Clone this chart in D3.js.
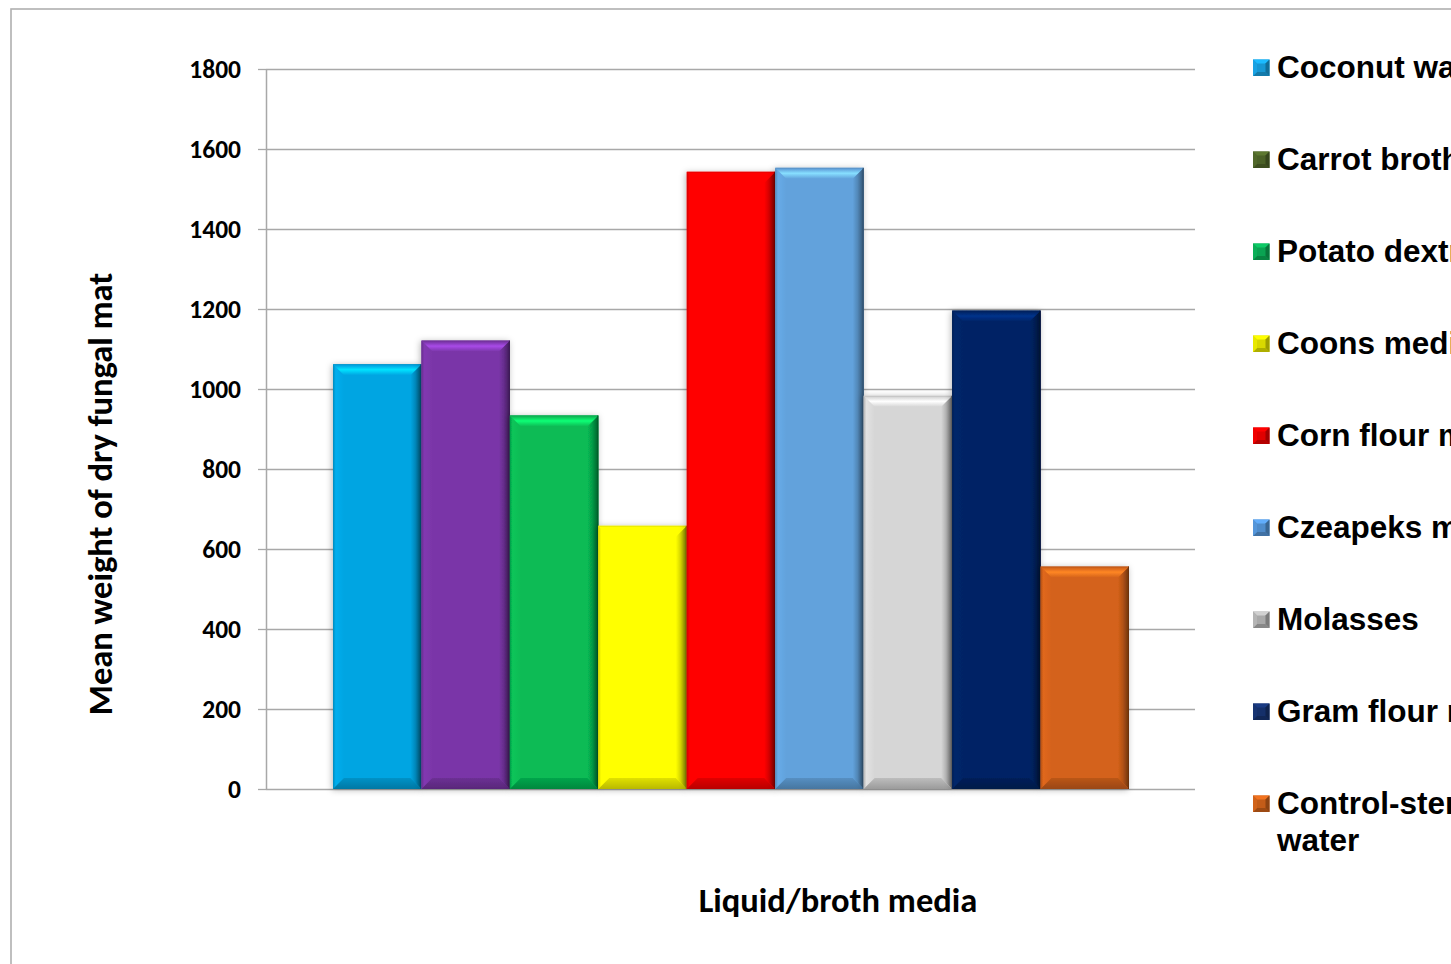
<!DOCTYPE html>
<html>
<head>
<meta charset="utf-8">
<script src="https://cdn.jsdelivr.net/npm/d3@7/dist/d3.min.js"></script>
<style>
  html, body { margin: 0; padding: 0; background: #fff; overflow: hidden; }
  svg { display: block; }
</style>
</head>
<body>
<svg id="chart" width="1451" height="964"></svg>
<script>
// Media tested and mean dry weight of the fungal mat grown on each
const media = [
  "Coconut water", "Carrot broth", "Potato dextrose broth", "Coons medium",
  "Corn flour medium", "Czeapeks medium", "Molasses", "Gram flour medium",
  "Control-sterile distilled water"
];
const meanWeight = [1062, 1121, 934, 658, 1543, 1553, 983, 1196, 556];
const barColors = ["#00a5e2", "#7a36a8", "#07bb55", "#ffff00", "#ff0000",
                   "#62a2dc", "#d6d6d6", "#042465", "#d4621a"];
const legendColors = ["#1797d3", "#4b6127", "#0aa352", "#d8d800", "#e00000",
                      "#4f8ccb", "#a9a9a9", "#15306a", "#c35c18"];
const yTicks = [0, 200, 400, 600, 800, 1000, 1200, 1400, 1600, 1800];
const legendLines = [
  ["Coconut water"], ["Carrot broth"], ["Potato dextrose broth"], ["Coons medium"],
  ["Corn flour medium"], ["Czeapeks medium"], ["Molasses"], ["Gram flour medium"],
  ["Control-sterile distilled", "water"]
];

const svg = d3.select("#chart");
const labelFont = "Carlito, Lato, 'Open Sans', sans-serif";
const legendFont = "'Liberation Sans', Arial, sans-serif";

// outer chart border
svg.append("rect")
  .attr("x", 11).attr("y", 9).attr("width", 1600).attr("height", 1200)
  .attr("fill", "#fff").attr("stroke", "#b0b0b0").attr("stroke-width", 1.6);

const plot = { left: 266, right: 1195, top: 69, bottom: 789 };

const y = d3.scaleLinear().domain([0, 1800]).range([plot.bottom, plot.top]);
const x = d3.scaleBand().domain(media).range([333, 1129]).padding(0);

// gridlines
svg.append("g")
  .attr("transform", `translate(${plot.left},0)`)
  .call(d3.axisLeft(y).tickValues(yTicks).tickSize(-(plot.right - plot.left)).tickFormat(""))
  .call(g => g.select(".domain").remove())
  .call(g => g.selectAll("line").attr("stroke", "#a8a8a8").attr("stroke-width", 1.3));

// y axis with outward ticks
svg.append("g")
  .attr("transform", `translate(${plot.left},0)`)
  .call(d3.axisLeft(y).tickValues(yTicks).tickFormat(d3.format("d"))
    .tickSize(8).tickSizeOuter(0).tickPadding(17))
  .call(g => g.select(".domain").attr("stroke", "#a8a8a8").attr("stroke-width", 1.5))
  .call(g => g.selectAll(".tick line").attr("stroke", "#a8a8a8").attr("stroke-width", 1.3))
  .call(g => g.selectAll("text")
    .attr("font-family", labelFont).attr("font-weight", "bold")
    .attr("font-size", 25.5).attr("fill", "#000").attr("dy", "0.34em"));

// bevel gradients and shadow
const defs = svg.append("defs");
const shadow = defs.append("filter").attr("id", "shadow")
  .attr("x", "-20%").attr("y", "-20%").attr("width", "140%").attr("height", "140%");
shadow.append("feDropShadow").attr("dx", -1).attr("dy", 1).attr("stdDeviation", 3)
  .attr("flood-color", "#000").attr("flood-opacity", 0.28);

function grad(id, x2, y2, stops) {
  const g = defs.append("linearGradient").attr("id", id)
    .attr("x1", 0).attr("y1", 0).attr("x2", x2).attr("y2", y2);
  stops.forEach(([o, c]) => g.append("stop").attr("offset", o).attr("stop-color", c));
}

const bev = 11;
const bars = svg.append("g");
media.forEach((m, i) => {
  const c = d3.color(barColors[i]);
  const base = c.formatHex();
  const light = c.brighter(0.9).formatHex();
  const mid = c.darker(0.45).formatHex();
  const dark = c.darker(1.9).formatHex();
  grad(`top${i}`, 0, 1, [[0, mid], [0.12, base], [0.5, light], [1, base]]);
  grad(`right${i}`, 1, 0, [[0, base], [0.45, c.darker(0.5).formatHex()], [1, dark]]);
  grad(`bottom${i}`, 0, 1, [[0, c.darker(0.35).formatHex()], [1, c.darker(0.9).formatHex()]]);
  grad(`left${i}`, 1, 0, [[0, c.darker(0.5).formatHex()], [0.25, c.brighter(0.15).formatHex()], [1, base]]);

  const x0 = x(m), x1 = x(m) + x.bandwidth();
  const y0 = y(meanWeight[i]), y1 = y(0);
  const g = bars.append("g").attr("filter", "url(#shadow)");
  const poly = pts => pts.map(p => p.join(",")).join(" ");
  g.append("rect").attr("x", x0).attr("y", y0).attr("width", x1 - x0).attr("height", y1 - y0)
    .attr("fill", base);
  g.append("polygon").attr("points", poly([[x0, y0], [x0 + bev, y0 + bev], [x0 + bev, y1 - bev], [x0, y1]]))
    .attr("fill", `url(#left${i})`);
  g.append("polygon").attr("points", poly([[x1, y0], [x1, y1], [x1 - bev, y1 - bev], [x1 - bev, y0 + bev]]))
    .attr("fill", `url(#right${i})`);
  g.append("polygon").attr("points", poly([[x0, y1], [x1, y1], [x1 - bev, y1 - bev], [x0 + bev, y1 - bev]]))
    .attr("fill", `url(#bottom${i})`);
  g.append("polygon").attr("points", poly([[x0, y0], [x1, y0], [x1 - bev, y0 + bev], [x0 + bev, y0 + bev]]))
    .attr("fill", `url(#top${i})`);
  g.append("line").attr("x1", x1 - 0.5).attr("x2", x1 - 0.5).attr("y1", y0).attr("y2", y1)
    .attr("stroke", dark).attr("stroke-width", 1);
});

// axis titles
svg.append("text")
  .attr("transform", "translate(112,494) rotate(-90)")
  .attr("text-anchor", "middle")
  .attr("font-family", labelFont).attr("font-weight", "bold").attr("font-size", 34.5)
  .attr("fill", "#000")
  .text("Mean weight of dry fungal mat");

svg.append("text")
  .attr("x", 838).attr("y", 912)
  .attr("text-anchor", "middle")
  .attr("font-family", labelFont).attr("font-weight", "bold").attr("font-size", 34.5)
  .attr("fill", "#000")
  .text("Liquid/broth media");

// legend
const legend = svg.append("g");
const sz = 16.5;
media.forEach((m, i) => {
  const base = 78 + i * 92;
  const c = d3.color(legendColors[i]);
  const gx = 1253, gy = base - 18.5;
  const poly = pts => pts.map(p => p.join(",")).join(" ");
  legend.append("rect").attr("x", gx).attr("y", gy).attr("width", sz).attr("height", sz)
    .attr("fill", c.formatHex());
  legend.append("polygon").attr("points", poly([[gx, gy], [gx + sz, gy], [gx + sz - 4, gy + 4], [gx + 4, gy + 4]]))
    .attr("fill", c.brighter(0.6).formatHex());
  legend.append("polygon").attr("points", poly([[gx + sz, gy], [gx + sz, gy + sz], [gx + sz - 4, gy + sz - 4], [gx + sz - 4, gy + 4]]))
    .attr("fill", c.darker(0.9).formatHex());
  legend.append("polygon").attr("points", poly([[gx, gy + sz], [gx + sz, gy + sz], [gx + sz - 4, gy + sz - 4], [gx + 4, gy + sz - 4]]))
    .attr("fill", c.darker(0.6).formatHex());
  legend.append("polygon").attr("points", poly([[gx, gy], [gx + 4, gy + 4], [gx + 4, gy + sz - 4], [gx, gy + sz]]))
    .attr("fill", c.brighter(0.2).formatHex());
  const t = legend.append("text")
    .attr("x", 1277).attr("y", base)
    .attr("font-family", legendFont).attr("font-weight", "bold").attr("font-size", 31.5)
    .attr("fill", "#000");
  legendLines[i].forEach((line, k) => {
    t.append("tspan").attr("x", 1277).attr("dy", k === 0 ? 0 : 36.5).text(line);
  });
});
</script>
</body>
</html>
